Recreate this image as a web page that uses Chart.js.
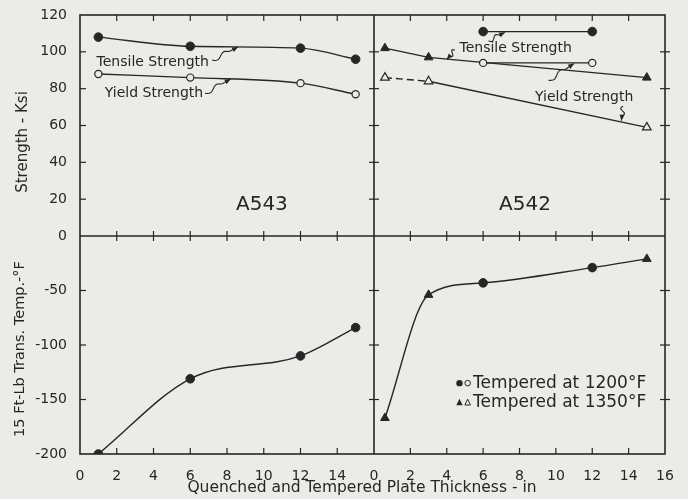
<!DOCTYPE html>
<html>
<head>
<meta charset="utf-8">
<script src="https://cdn.jsdelivr.net/npm/chart.js@4.4.1/dist/chart.umd.min.js"></script>
<style>
  html, body { margin: 0; padding: 0; background: #ebebe8; }
  #wrap { position: relative; width: 688px; height: 499px; }
</style>
</head>
<body>
<div id="wrap"><canvas id="plate" width="688" height="499"></canvas></div>
<script>
// ---- data: plate thickness (in) vs strength (ksi) and 15 ft-lb transition temp (F) ----
var a543Thick   = [1, 6, 12, 15];
var a543Tensile = [108, 103, 102, 96];
var a543Yield   = [88, 86, 83, 77];
var a543Trans   = [-200, -131, -110, -84];

// A542, tempered at 1200F
var a542Thick1200   = [6, 12];
var a542Tensile1200 = [111, 111];
var a542Yield1200   = [94, 94];
var a542Trans1200   = [-43, -29];

// A542, tempered at 1350F
var a542Thick1350   = [0.6, 3, 15];
var a542Tensile1350 = [102, 97, 86];
var a542Yield1350   = [86, 84, 59];
var a542Trans1350   = [-167, -54, -21];

// tick labels
var thickTicks    = [0, 2, 4, 6, 8, 10, 12, 14, 16];
var strengthTicks = [0, 20, 40, 60, 80, 100, 120];
var transTicks    = [-200, -150, -100, -50, 0];

var PAPER = '#ebebe8';
var INK = '#262626';
var FONT = 'DejaVu Sans';

function pts(xs, ys) {
    return xs.map(function (x, i) { return { x: x, y: ys[i] }; });
}

// one curve through both A542 transition series, marker style kept per point
var a542TransAll = pts(a542Thick1350, a542Trans1350).map(function (p) { p.s = 'triangle'; return p; })
    .concat(pts(a542Thick1200, a542Trans1200).map(function (p) { p.s = 'circle'; return p; }))
    .sort(function (a, b) { return a.x - b.x; });

function series(data, xId, yId, style, open, extra) {
    var ds = {
        data: data,
        xAxisID: xId,
        yAxisID: yId,
        showLine: true,
        borderColor: INK,
        borderWidth: 1.4,
        pointStyle: style,
        pointRadius: style === 'triangle' ? 5 : (open ? 3.6 : 4.3),
        pointBorderWidth: open ? 1.2 : 1,
        pointBorderColor: INK,
        pointBackgroundColor: open ? PAPER : INK
    };
    return Object.assign(ds, extra || {});
}

var smooth = { cubicInterpolationMode: 'monotone' };
var dashFirst = { segment: { borderDash: function (c) { return c.p0DataIndex === 0 ? [7, 4] : undefined; } } };

var datasets = [
    series(pts(a543Thick, a543Tensile), 'xL', 'yS', 'circle', false, smooth),
    series(pts(a543Thick, a543Yield), 'xL', 'yS', 'circle', true, smooth),
    series(pts(a543Thick, a543Trans), 'xL', 'yT', 'circle', false, smooth),

    series(pts(a542Thick1200, a542Tensile1200), 'xR', 'yS', 'circle', false),
    series(pts(a542Thick1200, a542Yield1200), 'xR', 'yS', 'circle', true),
    series(pts(a542Thick1350, a542Tensile1350), 'xR', 'yS', 'triangle', false),
    series(pts(a542Thick1350, a542Yield1350), 'xR', 'yS', 'triangle', true, dashFirst),
    series(a542TransAll, 'xR', 'yT', 'circle', false, {
        cubicInterpolationMode: 'monotone',
        pointStyle: function (c) { return c.raw ? c.raw.s : 'circle'; },
        pointRadius: function (c) { return c.raw && c.raw.s === 'triangle' ? 5 : 4.3; }
    })
];

function tickSetter(list) {
    return function (scale) { scale.ticks = list.map(function (v) { return { value: v }; }); };
}

function axis(extra) {
    var base = {
        type: 'linear',
        grid: { display: false },
        border: { display: false },
        ticks: { color: INK, font: { family: FONT, size: 14 }, padding: 5, maxRotation: 0, autoSkip: false }
    };
    return Object.assign(base, extra);
}

// panel frame with tick marks on every border
var frame = {
    id: 'frame',
    beforeDatasetsDraw: function (chart) {
        var ctx = chart.ctx, s = chart.scales;
        var L = s.xL.left, M = s.xL.right, R = s.xR.right;
        var T = s.yS.top, Mid = s.yS.bottom, B = s.yT.bottom;
        function seg(x0, y0, x1, y1) { ctx.beginPath(); ctx.moveTo(x0, y0); ctx.lineTo(x1, y1); ctx.stroke(); }
        ctx.save();
        ctx.strokeStyle = INK;
        ctx.lineWidth = 1.6;
        ctx.strokeRect(L, T, R - L, B - T);
        seg(M, T, M, B);
        seg(L, Mid, R, Mid);
        ctx.lineWidth = 1.2;
        [s.xL, s.xR].forEach(function (sc) {
            sc.ticks.forEach(function (t) {
                if (t.value <= sc.min || t.value >= sc.max) return;
                var x = sc.getPixelForValue(t.value);
                seg(x, T, x, T + 6);
                seg(x, Mid - 5, x, Mid + 5);
                seg(x, B - 6, x, B);
            });
        });
        [s.yS, s.yT].forEach(function (sc) {
            sc.ticks.forEach(function (t) {
                if (t.value <= sc.min || t.value >= sc.max) return;
                var y = sc.getPixelForValue(t.value);
                seg(L, y, L + 6, y);
                seg(M - 5, y, M + 5, y);
                seg(R - 5, y, R + 5, y);
            });
        });
        ctx.restore();
    }
};

// labels, leaders and the key, placed in data units of a panel
var notes = [
    { text: 'Tensile Strength', x: 0.9, y: 94.5, xs: 'xL', ys: 'yS', size: 14 },
    { text: 'Yield Strength', x: 1.35, y: 77.5, xs: 'xL', ys: 'yS', size: 14 },
    { text: 'A543', x: 9.9, y: 17, xs: 'xL', ys: 'yS', size: 20, align: 'center' },
    { text: 'Tensile Strength', x: 4.7, y: 102, xs: 'xR', ys: 'yS', size: 14 },
    { text: 'Yield Strength', x: 8.85, y: 75.3, xs: 'xR', ys: 'yS', size: 14 },
    { text: 'A542', x: 8.3, y: 17, xs: 'xR', ys: 'yS', size: 20, align: 'center' },
    { text: 'Tempered at 1200\u00B0F', x: 5.45, y: -135, xs: 'xR', ys: 'yT', size: 17 },
    { text: 'Tempered at 1350\u00B0F', x: 5.45, y: -153, xs: 'xR', ys: 'yT', size: 17 }
];
var leaders = [
    { from: [7.2, 95.5], to: [8.6, 102.6], xs: 'xL' },
    { from: [6.8, 77.5], to: [8.2, 85.2], xs: 'xL' },
    { from: [4.45, 101], to: [4.0, 95.8], xs: 'xR' },
    { from: [6.3, 106], to: [7.2, 110.6], xs: 'xR' },
    { from: [9.6, 84.5], to: [11.0, 93.6], xs: 'xR' },
    { from: [13.7, 70.4], to: [13.6, 62.6], xs: 'xR' }
];
var keyMarks = [
    { x: 4.7, y: -135, style: 'circle', open: false },
    { x: 5.15, y: -135, style: 'circle', open: true },
    { x: 4.7, y: -153, style: 'triangle', open: false },
    { x: 5.15, y: -153, style: 'triangle', open: true }
];

function squiggle(ctx, x0, y0, x1, y1) {
    var dx = x1 - x0, dy = y1 - y0, len = Math.hypot(dx, dy);
    var ux = dx / len, uy = dy / len, nx = -uy, ny = ux;
    ctx.beginPath();
    ctx.moveTo(x0, y0);
    for (var i = 1; i <= 24; i++) {
        var t = i / 24;
        var a = t < 0.65 ? Math.sin(t / 0.65 * Math.PI * 2) * 2.2 : 0;
        ctx.lineTo(x0 + dx * t + nx * a, y0 + dy * t + ny * a);
    }
    ctx.stroke();
    ctx.beginPath();
    ctx.moveTo(x1, y1);
    ctx.lineTo(x1 - ux * 6 + nx * 2.5, y1 - uy * 6 + ny * 2.5);
    ctx.lineTo(x1 - ux * 6 - nx * 2.5, y1 - uy * 6 - ny * 2.5);
    ctx.closePath();
    ctx.fill();
}

var annotate = {
    id: 'annotate',
    afterDatasetsDraw: function (chart) {
        var ctx = chart.ctx, s = chart.scales;
        ctx.save();
        ctx.fillStyle = INK;
        ctx.strokeStyle = INK;
        ctx.lineWidth = 1.1;
        ctx.textBaseline = 'middle';
        notes.forEach(function (n) {
            ctx.font = n.size + 'px "' + FONT + '"';
            ctx.textAlign = n.align || 'left';
            ctx.fillText(n.text, s[n.xs].getPixelForValue(n.x), s[n.ys].getPixelForValue(n.y));
        });
        leaders.forEach(function (l) {
            var sx = s[l.xs], sy = s.yS;
            squiggle(ctx, sx.getPixelForValue(l.from[0]), sy.getPixelForValue(l.from[1]),
                sx.getPixelForValue(l.to[0]), sy.getPixelForValue(l.to[1]));
        });
        keyMarks.forEach(function (k) {
            var x = s.xR.getPixelForValue(k.x), y = s.yT.getPixelForValue(k.y);
            var r = k.open ? 2.8 : 3.2;
            ctx.beginPath();
            if (k.style === 'circle') {
                ctx.arc(x, y, r, 0, Math.PI * 2);
            } else {
                ctx.moveTo(x, y - r - 0.8);
                ctx.lineTo(x + r, y + r * 0.8);
                ctx.lineTo(x - r, y + r * 0.8);
                ctx.closePath();
            }
            if (k.open) { ctx.lineWidth = 1; ctx.stroke(); } else { ctx.fill(); }
        });

        // axis titles
        ctx.textAlign = 'center';
        ctx.font = '15.5px "' + FONT + '"';
        ctx.fillText('Quenched and Tempered Plate Thickness - in', 362, 488);
        ctx.font = '15px "' + FONT + '"';
        ctx.translate(23, 142);
        ctx.rotate(-Math.PI / 2);
        ctx.fillText('Strength - Ksi', 0, 0);
        ctx.rotate(Math.PI / 2);
        ctx.font = '14.5px "' + FONT + '"';
        ctx.translate(-3, 207);
        ctx.rotate(-Math.PI / 2);
        ctx.fillText('15 Ft-Lb Trans. Temp.-\u00B0F', 0, 0);
        ctx.restore();
    }
};

new Chart(document.getElementById('plate'), {
    type: 'scatter',
    data: { datasets: datasets },
    options: {
        responsive: false,
        animation: false,
        layout: { padding: { left: 0, top: 15, right: 23, bottom: 0 } },
        plugins: { legend: { display: false }, tooltip: { enabled: false } },
        scales: {
            xL: axis({ position: 'bottom', stack: 'x', stackWeight: 294, min: 0, max: 16,
                afterBuildTicks: tickSetter(thickTicks),
                afterFit: function (sc) { sc.height = 45; },
                ticks: { color: INK, font: { family: FONT, size: 14 }, padding: 6, maxRotation: 0, autoSkip: false,
                    callback: function (v) { return v === 16 ? '' : v; } } }),
            xR: axis({ position: 'bottom', stack: 'x', stackWeight: 291, min: 0, max: 16,
                afterBuildTicks: tickSetter(thickTicks),
                afterFit: function (sc) { sc.height = 45; },
                ticks: { color: INK, font: { family: FONT, size: 14 }, padding: 6, maxRotation: 0, autoSkip: false } }),
            // the lower panel is listed first: equal-weight boxes are stacked in reverse order
            yT: axis({ position: 'left', stack: 'y', stackWeight: 218, min: -200, max: 0,
                afterBuildTicks: tickSetter(transTicks),
                afterFit: function (sc) { sc.width = 80; },
                ticks: { color: INK, font: { family: FONT, size: 14 }, padding: 5, maxRotation: 0, autoSkip: false,
                    callback: function (v) { return v === 0 ? '' : v; } } }),
            yS: axis({ position: 'left', stack: 'y', stackWeight: 221, min: 0, max: 120,
                afterBuildTicks: tickSetter(strengthTicks),
                afterFit: function (sc) { sc.width = 80; } })
        }
    },
    plugins: [frame, annotate]
});
</script>
</body>
</html>
